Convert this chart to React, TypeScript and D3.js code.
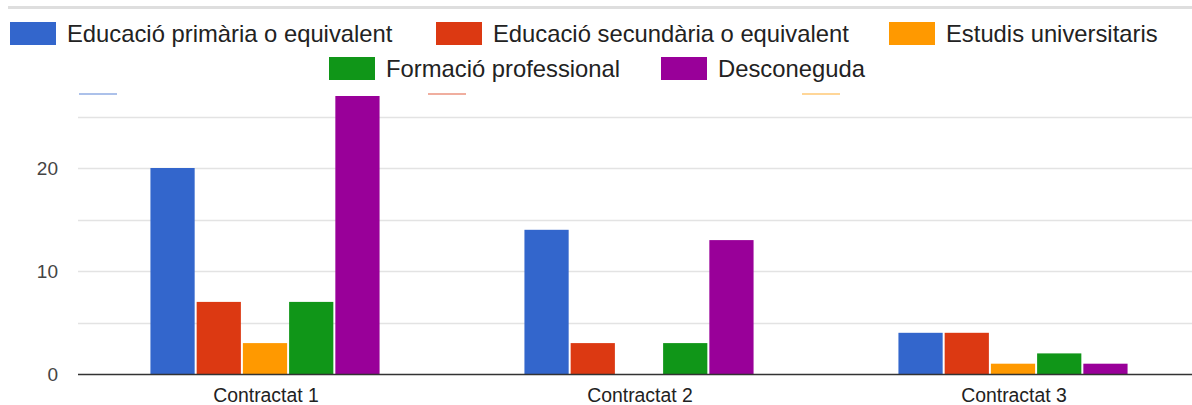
import React from "react";
import * as d3 from "d3";

const categories = ["Contractat 1", "Contractat 2", "Contractat 3"];
const seriesNames = [
  "Educació primària o equivalent",
  "Educació secundària o equivalent",
  "Estudis universitaris",
  "Formació professional",
  "Desconeguda",
];
const seriesColors = ["#3366cc", "#dc3912", "#ff9900", "#109618", "#990099"];
const primaria = [20, 14, 4];
const secundaria = [7, 3, 4];
const universitaris = [3, 0, 1];
const formacio = [7, 3, 2];
const desconeguda = [27, 13, 1];
const seriesValues = [primaria, secundaria, universitaris, formacio, desconeguda];
const yTickValues = [0, 10, 20];
const gridValues = [5, 10, 15, 20, 25];

// legend layout (row, swatch x)
const legendLayout = [
  { row: 0, x: 10 },
  { row: 0, x: 436 },
  { row: 0, x: 889 },
  { row: 1, x: 329 },
  { row: 1, x: 661 },
];

const W = 1192;
const H = 405;
const FONT = "Arial, 'Liberation Sans', sans-serif";

export default function App() {
  const plotLeft = 79;
  const plotRight = 1201;
  const y0 = 374;
  const clipTop = 96;

  const y = d3.scaleLinear().domain([0, 30]).range([y0, y0 - 30 * 10.3]);
  const x0 = d3.scaleBand<string>().domain(categories).range([plotLeft, plotRight]).padding(0);
  const bw = x0.bandwidth();
  const gw = bw * 0.618;
  const x1 = d3
    .scaleBand<number>()
    .domain(d3.range(seriesNames.length))
    .range([(bw - gw) / 2, (bw + gw) / 2])
    .padding(0);

  return (
    <svg
      width={W}
      height={H}
      style={{ position: "absolute", left: 0, top: 0, background: "#fff" }}
      fontFamily={FONT}
    >
      <defs>
        <clipPath id="plotClip">
          <rect x={0} y={clipTop} width={W} height={H - clipTop} />
        </clipPath>
      </defs>
      <rect x={0} y={0} width={W} height={H} fill="#fff" />
      {/* top separator */}
      <line x1={8} x2={W} y1={7.5} y2={7.5} stroke="#dedede" strokeWidth={3} />

      {/* legend */}
      {seriesNames.map((name, i) => {
        const L = legendLayout[i];
        const cy = L.row === 0 ? 33.5 : 68.5;
        return (
          <g key={name}>
            <rect x={L.x} y={cy - 11.5} width={46} height={23} fill={seriesColors[i]} />
            <text x={L.x + 57} y={cy} dy="0.35em" fontSize={23.8} fill="#222">
              {name}
            </text>
          </g>
        );
      })}

      {/* remnant strokes of a hidden legend */}
      {[0, 1, 2].map((i) => {
        const xs = [79, 428, 802][i];
        return (
          <line key={i} x1={xs} x2={xs + 38} y1={94} y2={94} stroke={seriesColors[i]} strokeWidth={1.2} opacity={0.8} />
        );
      })}

      <g clipPath="url(#plotClip)">
        {gridValues.map((v) => (
          <line key={v} x1={78} x2={W} y1={Math.round(y(v)) + 0.5} y2={Math.round(y(v)) + 0.5} stroke="#e3e3e3" strokeWidth={1.3} />
        ))}
        {categories.map((c, ci) => (
          <g key={c} transform={`translate(${x0(c)},0)`}>
            {seriesValues.map((vals, si) => {
              const v = vals[ci];
              if (v <= 0) return null;
              return (
                <rect
                  key={si}
                  x={x1(si) as number}
                  y={y(v)}
                  width={x1.bandwidth() - 2}
                  height={y0 - y(v)}
                  fill={seriesColors[si]}
                />
              );
            })}
          </g>
        ))}
      </g>
      <line x1={78} x2={W} y1={y0 + 0.5} y2={y0 + 0.5} stroke="#333" strokeWidth={1.5} />

      {yTickValues.map((v) => (
        <text key={v} x={58} y={y(v)} dy="0.35em" textAnchor="end" fontSize={19} fill="#444">
          {v}
        </text>
      ))}
      {categories.map((c) => (
        <text key={c} x={(x0(c) as number) + bw / 2} y={395.5} dy="0.35em" textAnchor="middle" fontSize={19.4} fill="#222">
          {c}
        </text>
      ))}
    </svg>
  );
}
